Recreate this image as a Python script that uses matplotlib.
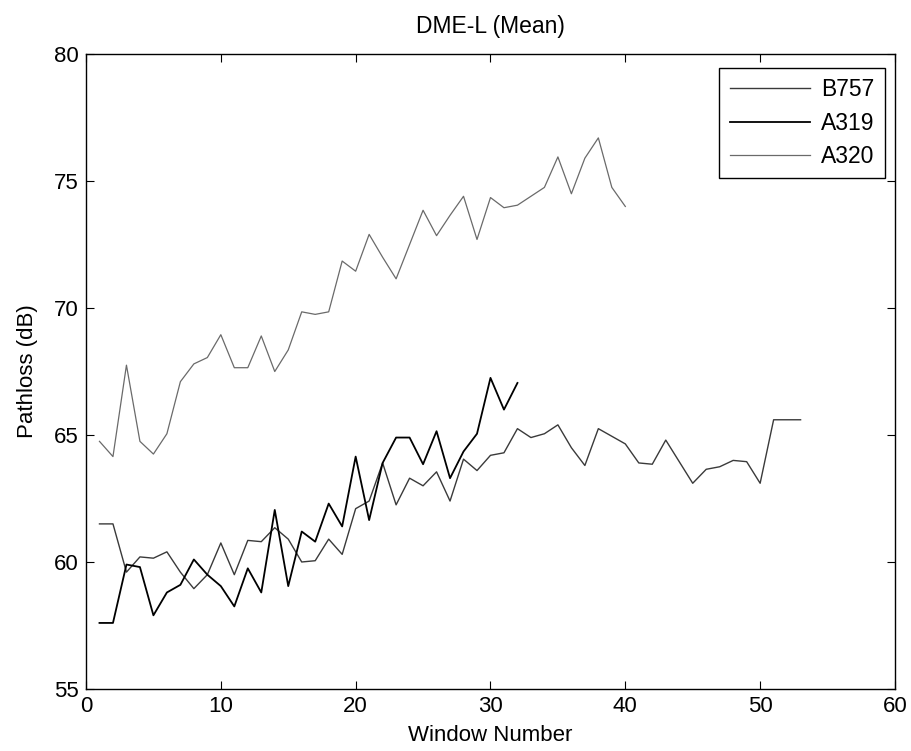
import matplotlib
matplotlib.use("Agg")
import matplotlib.pyplot as plt
import numpy as np

plt.rcParams['font.family'] = ['Liberation Sans', 'DejaVu Sans']

# Series (window number -> mean pathloss, dB)
b757_x = list(range(1, 54))
b757_y = [61.5, 61.5, 59.6, 60.2, 60.15, 60.4, 59.6, 58.95, 59.5, 60.75,
          59.5, 60.85, 60.8, 61.35, 60.9, 60.0, 60.05, 60.9, 60.3, 62.1,
          62.4, 63.9, 62.25, 63.3, 63.0, 63.55, 62.4, 64.05, 63.6, 64.2,
          64.3, 65.25, 64.9, 65.05, 65.4, 64.5, 63.8, 65.25, 64.95, 64.65,
          63.9, 63.85, 64.8, 63.95, 63.1, 63.65, 63.75, 64.0, 63.95, 63.1,
          65.6, 65.6, 65.6]

a319_x = list(range(1, 33))
a319_y = [57.6, 57.6, 59.9, 59.8, 57.9, 58.8, 59.1, 60.1, 59.5, 59.05,
          58.25, 59.75, 58.8, 62.05, 59.05, 61.2, 60.8, 62.3, 61.4, 64.15,
          61.65, 63.9, 64.9, 64.9, 63.85, 65.15, 63.3, 64.35, 65.05, 67.25,
          66.0, 67.05]

a320_x = list(range(1, 41))
a320_y = [64.75, 64.15, 67.75, 64.75, 64.25, 65.05, 67.1, 67.8, 68.05, 68.95,
          67.65, 67.65, 68.9, 67.5, 68.35, 69.85, 69.75, 69.85, 71.85, 71.45,
          72.9, 72.0, 71.15, 72.5, 73.85, 72.85, 73.65, 74.4, 72.7, 74.35,
          73.95, 74.05, 74.4, 74.75, 75.95, 74.5, 75.9, 76.7, 74.75, 74.0]

series_names = ['B757', 'A319', 'A320']

fig = plt.figure(figsize=(9.11, 7.51), dpi=100)
ax = fig.add_axes([0.0944, 0.0826, 0.888, 0.8454])

ax.plot(b757_x, b757_y, color='#3a3a3a', lw=1.0, label=series_names[0])
ax.plot(a319_x, a319_y, color='#000000', lw=1.3, label=series_names[1])
ax.plot(a320_x, a320_y, color='#6a6a6a', lw=0.9, label=series_names[2])

ax.set_xlim(0, 60)
ax.set_ylim(55, 80)
ax.set_xticks([0, 10, 20, 30, 40, 50, 60])
ax.set_yticks([55, 60, 65, 70, 75, 80])

ax.tick_params(direction='in', length=6, width=0.8, top=True, right=True,
               labelsize=16, pad=5, colors='black')
for s in ax.spines.values():
    s.set_linewidth(1.0)
    s.set_color('black')

ax.set_title('DME-L (Mean)', fontsize=16.5, pad=15)
ax.set_xlabel('Window Number', fontsize=16, labelpad=6)
ax.set_ylabel('Pathloss (dB)', fontsize=16, labelpad=12)

leg = ax.legend(loc='upper right', bbox_to_anchor=(0.988, 0.978),
                borderaxespad=0, fontsize=16.5, handlelength=3.5,
                fancybox=False, framealpha=1, edgecolor='black',
                labelspacing=0.45, borderpad=0.45, handletextpad=0.5)
leg.get_frame().set_linewidth(1.0)

fig.savefig('out.png', dpi=100)
